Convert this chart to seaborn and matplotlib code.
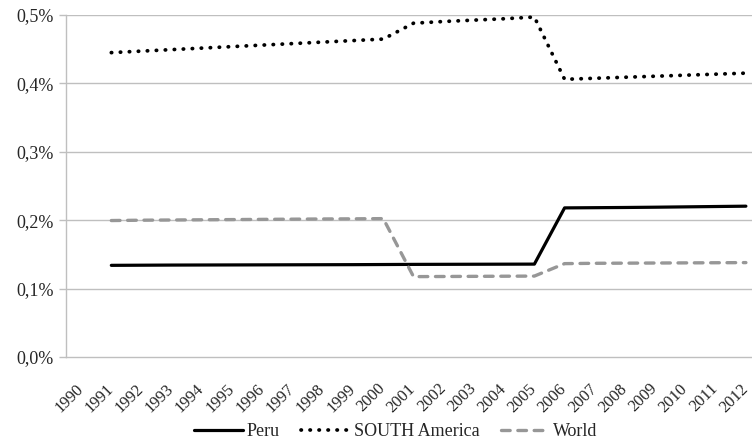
import numpy as np
import pandas as pd
import matplotlib
matplotlib.use("Agg")
import matplotlib.pyplot as plt
import seaborn as sns
from matplotlib.ticker import FuncFormatter

# Data (share in %)
years = list(range(1990, 2013))
peru = [np.nan, 0.134, 0.1342, 0.1344, 0.1345, 0.1346, 0.1347, 0.1348, 0.1349, 0.135,
        0.1352, 0.1354, 0.1355, 0.1356, 0.1357, 0.1358,
        0.218, 0.2183, 0.2186, 0.219, 0.2195, 0.22, 0.2205]
south_america = [np.nan, 0.445, 0.4472, 0.4494, 0.4516, 0.4538, 0.456, 0.4582, 0.4604, 0.4626,
                 0.4648, 0.488, 0.4905, 0.4925, 0.4945, 0.497,
                 0.406, 0.4075, 0.409, 0.4105, 0.412, 0.4135, 0.415]
world = [np.nan, 0.1995, 0.2, 0.2003, 0.2006, 0.2009, 0.2012, 0.2015, 0.2018, 0.202,
         0.2023, 0.1175, 0.1177, 0.1179, 0.1181, 0.1183,
         0.1365, 0.137, 0.1372, 0.1374, 0.1376, 0.1378, 0.138]

df = pd.DataFrame({"year": years, "Peru": peru, "SOUTH America": south_america, "World": world})

sns.set_style("white")
plt.rcParams['font.family'] = ['Liberation Serif', 'DejaVu Serif']

fig = plt.figure(figsize=(7.52, 4.43), dpi=100)
ax = fig.add_axes([66 / 752, 86 / 443, 695 / 752, 342 / 443])

grid_c = "#bfbfbf"
ax.set_axisbelow(True)
for v in [0.1, 0.2, 0.3, 0.4, 0.5]:
    ax.axhline(v, color=grid_c, lw=1.0, zorder=0)

sns.lineplot(data=df, x="year", y="Peru", ax=ax, color="black", lw=2.3,
             label="Peru", solid_capstyle="round")
sns.lineplot(data=df, x="year", y="SOUTH America", ax=ax, color="black", lw=2.7,
             dashes=False, label="SOUTH America", linestyle=(0, (0.1, 2.3)),
             dash_capstyle="round")
sns.lineplot(data=df, x="year", y="World", ax=ax, color="#979797", lw=2.4,
             label="World", linestyle=(0, (2.6, 2.3)), dash_capstyle="round")

ax.set_xlim(1989.5, 2012.5)
ax.set_ylim(0, 0.5)
# label anchors nudged slightly left of the category centres (ticks themselves are hidden)
ax.set_xticks([y - 0.2 for y in years])
ax.set_xticklabels([str(y) for y in years], rotation=45, ha="right",
                   rotation_mode="anchor", fontsize=12)
ax.set_xticks(np.arange(1989.5, 2012.6, 1), minor=True)
ax.tick_params(axis="x", which="major", length=0, pad=17)
ax.tick_params(axis="x", which="minor", length=5, color=grid_c, width=1, direction="out")
ax.set_yticks([0, 0.1, 0.2, 0.3, 0.4, 0.5])
ax.yaxis.set_major_formatter(FuncFormatter(lambda v, p: f"{v:.1f}%".replace(".", ",")))
ax.tick_params(axis="y", length=5, color=grid_c, width=1, direction="out",
               labelsize=13, pad=4, left=True)
ax.set_xlabel("")
ax.set_ylabel("")

for s in ["top", "right"]:
    ax.spines[s].set_visible(False)
for s in ["left", "bottom"]:
    ax.spines[s].set_color(grid_c)
    ax.spines[s].set_linewidth(1.0)

ax.legend(loc="center", bbox_to_anchor=(396 / 752, 11 / 443),
          bbox_transform=fig.transFigure, ncol=3, frameon=False,
          fontsize=13, handlelength=2.7, columnspacing=1.2, handletextpad=0.2)

fig.savefig("out.png", dpi=100)
